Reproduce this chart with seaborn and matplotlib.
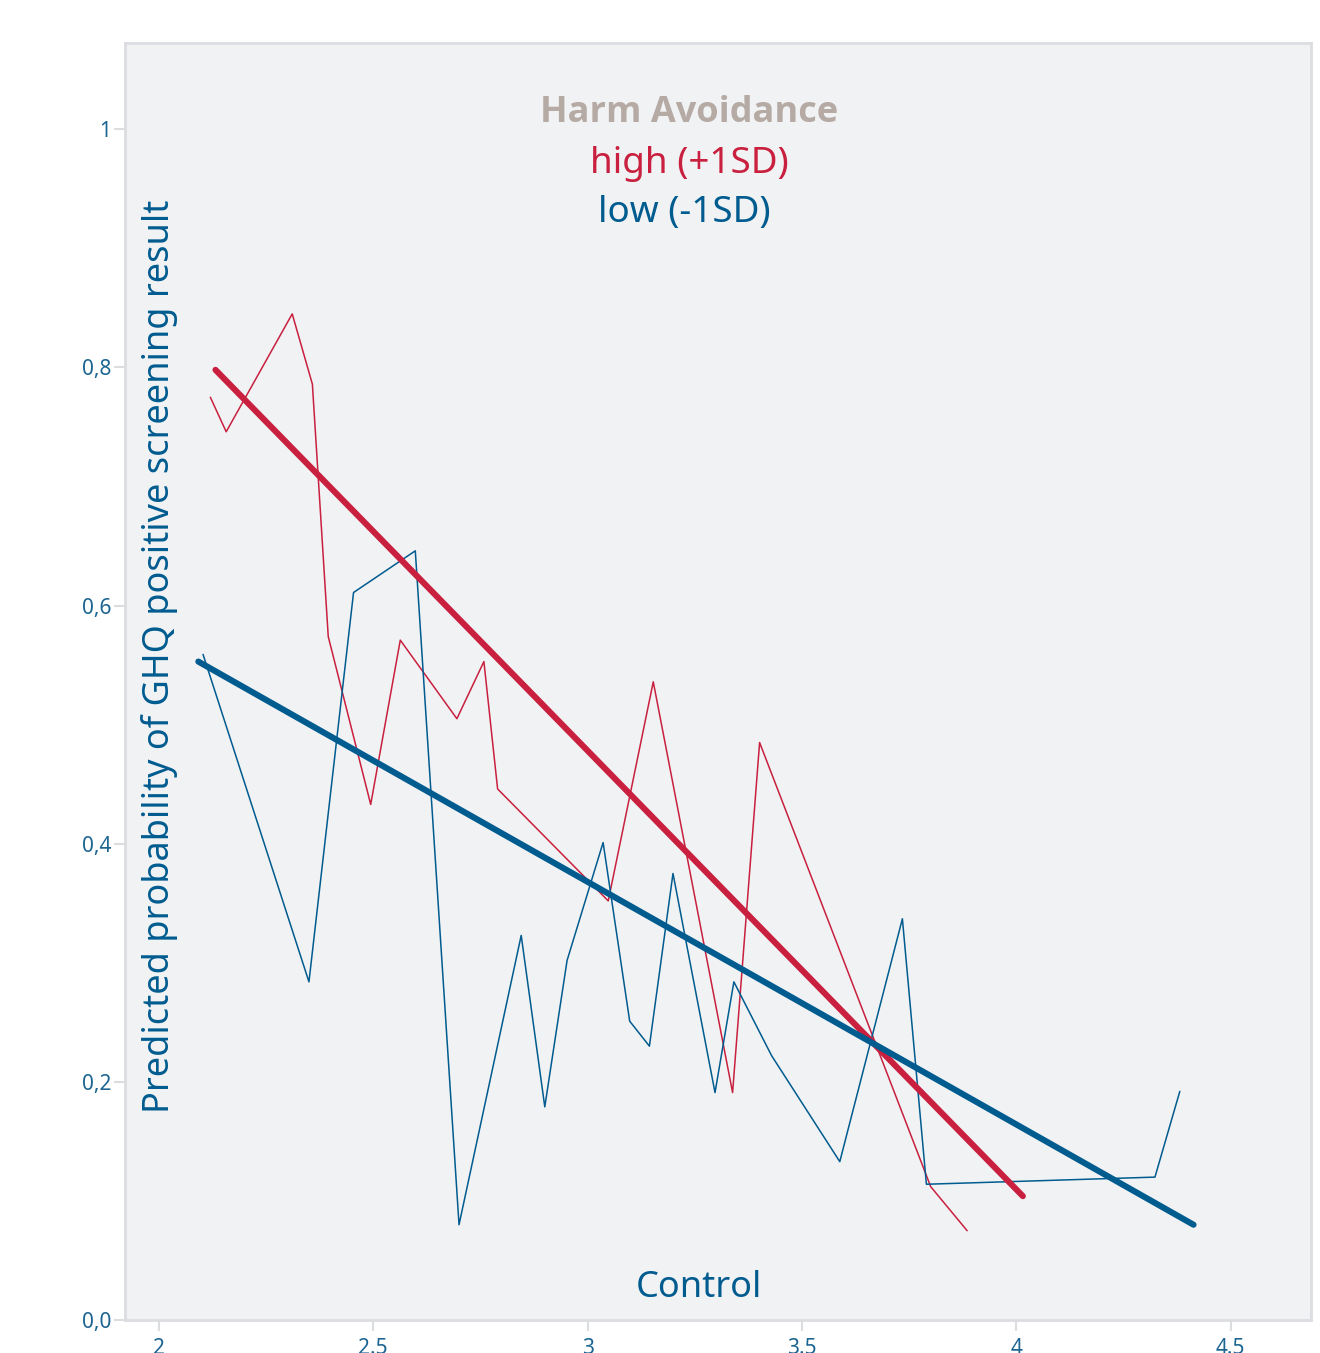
import numpy as np
import pandas as pd
import seaborn as sns
import matplotlib.pyplot as plt

# ── Data ──────────────────────────────────────────────────────────────────────
high_x = [2.120, 2.157, 2.311, 2.358, 2.395, 2.494, 2.563, 2.695, 2.758, 2.790,
          3.048, 3.153, 3.338, 3.401, 3.800, 3.885]
high_y = [0.775, 0.746, 0.845, 0.786, 0.574, 0.433, 0.571, 0.505, 0.553, 0.446,
          0.352, 0.536, 0.191, 0.485, 0.112, 0.075]

low_x = [2.103, 2.350, 2.454, 2.598, 2.700, 2.845, 2.900, 2.952, 3.036, 3.098,
         3.144, 3.199, 3.297, 3.341, 3.429, 3.588, 3.734, 3.790, 4.323, 4.381]
low_y = [0.559, 0.284, 0.611, 0.646, 0.080, 0.323, 0.179, 0.302, 0.401, 0.251,
         0.230, 0.375, 0.191, 0.284, 0.222, 0.133, 0.337, 0.114, 0.120, 0.192]

high_fit_x = [2.132, 4.015]
high_fit_y = [0.798, 0.104]
low_fit_x = [2.092, 4.413]
low_fit_y = [0.553, 0.080]

x_ticks = [2, 2.5, 3, 3.5, 4, 4.5]
x_labels = ["2", "2.5", "3", "3.5", "4", "4.5"]
y_ticks = [0, 0.2, 0.4, 0.6, 0.8, 1]
y_labels = ["0,0", "0,2", "0,4", "0,6", "0,8", "1"]

RED = "#c8203e"
BLUE = "#005b8f"
TAUPE = "#b5aaa4"
TICKC = "#1c6592"
GRID = "#dcdde0"

sns.set_theme(style="white")
plt.rcParams["font.family"] = ["Noto Sans", "DejaVu Sans"]

df_high = pd.DataFrame({"x": high_x, "y": high_y})
df_low = pd.DataFrame({"x": low_x, "y": low_y})
fit_high = pd.DataFrame({"x": high_fit_x, "y": high_fit_y})
fit_low = pd.DataFrame({"x": low_fit_x, "y": low_fit_y})

fig = plt.figure(figsize=(13.2, 13.53), dpi=100)
ax = fig.add_axes([0.0947, 0.0244, 0.8985, 0.9438])
ax.set_facecolor("#f1f2f4")

sns.lineplot(data=df_high, x="x", y="y", ax=ax, color=RED, lw=1.1, sort=False, estimator=None)
sns.lineplot(data=df_low, x="x", y="y", ax=ax, color=BLUE, lw=1.1, sort=False, estimator=None)
sns.lineplot(data=fit_high, x="x", y="y", ax=ax, color=RED, lw=4.4, sort=False, estimator=None)
sns.lineplot(data=fit_low, x="x", y="y", ax=ax, color=BLUE, lw=4.4, sort=False, estimator=None)

ax.set_xlim(1.921, 4.687)
ax.set_ylim(0, 1.0725)
ax.set_xticks(x_ticks)
ax.set_xticklabels(x_labels)
ax.set_yticks(y_ticks)
ax.set_yticklabels(y_labels)
ax.tick_params(axis="both", colors=GRID, labelcolor=TICKC, labelsize=15,
               length=8, width=1.5, direction="out", bottom=True, left=True)
ax.tick_params(axis="x", pad=5)
ax.tick_params(axis="y", pad=2)
for s in ax.spines.values():
    s.set_color(GRID)
    s.set_linewidth(2)

ax.set_xlabel("")
ax.set_ylabel("")

# legend-like title block and axis titles placed inside the plot
ax.text(0.476, 0.945, "Harm Avoidance", transform=ax.transAxes, ha="center", va="center",
        fontsize=26, fontweight="bold", color=TAUPE, family=["Open Sans", "DejaVu Sans"])
ax.text(0.476, 0.905, "high (+1SD)", transform=ax.transAxes, ha="center", va="center",
        fontsize=26.5, color=RED)
ax.text(0.472, 0.867, "low (-1SD)", transform=ax.transAxes, ha="center", va="center",
        fontsize=26.5, color=BLUE)
ax.text(0.484, 0.025, "Control", transform=ax.transAxes, ha="center", va="center",
        fontsize=26, color=BLUE)
ax.text(0.029, 0.520, "Predicted probability of GHQ positive screening result",
        transform=ax.transAxes, ha="center", va="center", rotation=90,
        fontsize=26, color=BLUE)

fig.savefig("out.png", dpi=100, facecolor="white")
